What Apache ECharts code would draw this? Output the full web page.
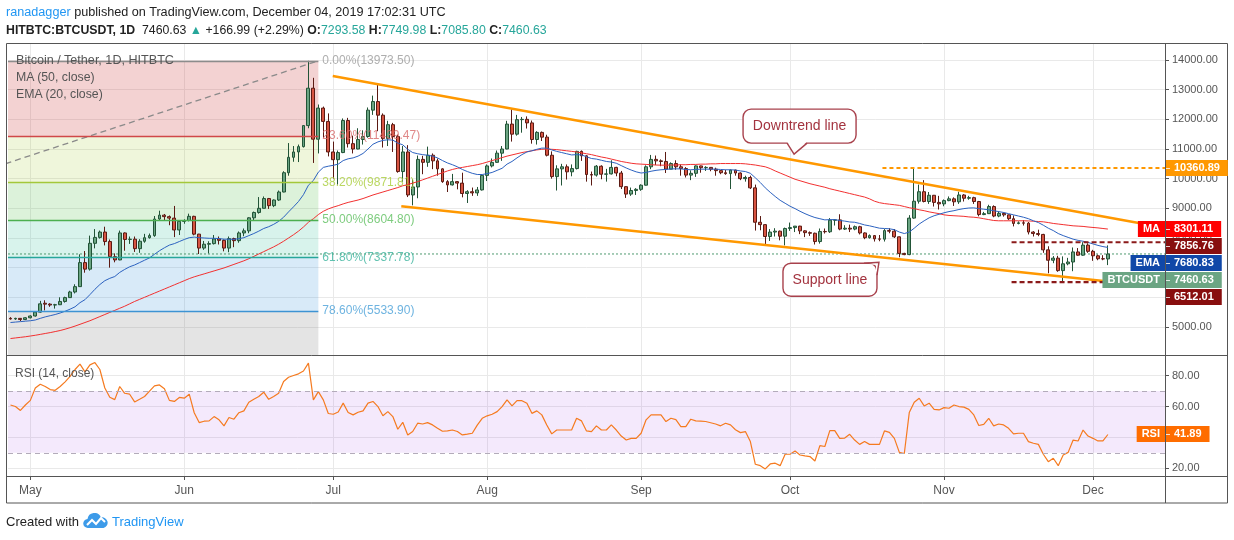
<!DOCTYPE html>
<html><head><meta charset="utf-8">
<script src="https://cdn.jsdelivr.net/npm/echarts@6/dist/echarts.min.js"></script>
<style>
html,body{margin:0;padding:0;background:#fff;}
#wrap{position:relative;width:1234px;height:540px;overflow:hidden;font-family:"Liberation Sans",Arial,sans-serif;}
#chart{position:absolute;left:0;top:0;width:1234px;height:540px;}
.t{position:absolute;white-space:nowrap;}
.g{color:#26a69a;}
</style></head><body>
<div id="wrap">
<div id="chart"></div>
<div class="t" style="left:6px;top:3px;font-size:12.65px;line-height:18px;color:#222"><span style="color:#2196f3">ranadagger</span> published on TradingView.com, December 04, 2019 17:02:31 UTC</div>
<div class="t" style="left:6px;top:21px;font-size:12.3px;line-height:18px;color:#222"><b>HITBTC:BTCUSDT, 1D</b>&nbsp; 7460.63 <span class="g">&#9650;</span> +166.99 (+2.29%) <b>O:</b><span class="g">7293.58</span> <b>H:</b><span class="g">7749.98</span> <b>L:</b><span class="g">7085.80</span> <b>C:</b><span class="g">7460.63</span></div>
<div class="t" style="left:16px;top:52px;font-size:12.6px;line-height:16px;color:#555">Bitcoin / Tether, 1D, HITBTC</div>
<div class="t" style="left:16px;top:69px;font-size:12.3px;line-height:16px;color:#555">MA (50, close)</div>
<div class="t" style="left:16px;top:86px;font-size:12.3px;line-height:16px;color:#555">EMA (20, close)</div>
<div class="t" style="left:15px;top:365px;font-size:12px;line-height:16px;color:#555">RSI (14, close)</div>
<div class="t" style="left:6px;top:513px;font-size:13px;line-height:18px;color:#222">Created with <svg width="26" height="16" viewBox="0 0 26 16" style="vertical-align:-3px"><path d="M5 15a4.5 4.5 0 0 1-.5-9A7 7 0 0 1 18 4.5 5.3 5.3 0 0 1 20.5 15z" fill="#3d9be9"/><polyline points="4,12 9,7 13,11 18,5 22,9" fill="none" stroke="#fff" stroke-width="2"/></svg> <span style="color:#2196f3">TradingView</span></div>
</div>
<script>
// ---------- data ----------
const firstDay = Date.UTC(2019, 3, 27);
const totalDays = 233;
const dates = Array.from({length: totalDays}, (_, i) => new Date(firstDay + i * 86400000).toISOString().slice(0, 10));
const monthNames = ['Jan','Feb','Mar','Apr','May','Jun','Jul','Aug','Sep','Oct','Nov','Dec'];

const openP = [5290,5270,5290,5250,5310,5370,5500,5800,5770,5740,5750,5860,5990,6180,6360,7170,6950,7820,8020,8200,
7880,7370,7260,8170,7950,7960,7640,7890,8010,8080,8640,8770,8720,8670,8270,8560,8590,8730,8130,7660,
7790,7810,7970,7920,7660,7980,7910,8170,8240,8680,8860,9000,9330,9090,9280,9550,10200,10720,10900,11080,
11790,13050,11330,12380,11930,10900,10640,10880,11960,11180,11000,11320,11420,12310,12600,12140,11350,11820,11420,10240,
10900,9450,9720,10650,10550,10790,10600,10330,9900,9790,9900,9850,9500,9560,9520,9620,10110,10430,10550,10860,
11000,11840,11500,11990,12000,11880,11320,11560,11400,10790,10070,10330,10400,10230,10340,10920,10770,10140,10120,10420,
10150,10160,10380,10190,9730,9480,9600,9640,9780,10400,10650,10600,10580,10320,10510,10400,10340,10120,10180,10430,
10370,10380,10320,10270,10200,10170,10290,10190,10000,10040,9690,8530,8450,8050,8200,8230,8060,8320,8350,8400,
8240,8180,8160,7880,8220,8210,8600,8610,8300,8330,8300,8380,8170,8010,8080,7970,7960,8250,8230,8040,
7480,7440,8670,9240,9560,9230,9440,9200,9150,9260,9320,9220,9450,9340,9360,9230,8790,8820,9060,8740,
8830,8780,8650,8490,8510,8500,8200,8150,8120,7600,7250,7320,6900,7130,7190,7530,7420,7760,7550,7400,
7300,7293.58];
const highP = [5330,5310,5300,5330,5390,5520,5880,5900,5800,5780,6000,6020,6220,6440,7450,7560,8080,8300,8250,8380,
7950,7480,8250,8190,8050,8050,7960,8140,8150,8740,8920,8810,8760,9080,8580,8630,8820,8750,8140,7900,
7890,8100,8050,7950,8050,8010,8220,8320,8700,8890,9380,9400,9350,9300,9600,10250,11200,11100,11150,11800,
13973.5,13400,12500,12430,12200,11250,10950,12030,12050,11450,11700,11630,12400,12800,13190,12200,11950,11880,11480,11100,
11130,9980,10780,10770,11080,10850,10680,10350,9950,10160,9920,10200,9610,9700,9720,10130,10480,10680,10950,11100,
11950,12340,12150,12080,12100,11960,11600,11590,11480,10920,10450,10500,10480,10480,10940,10950,10790,10240,10460,10450,
10330,10620,10400,10260,9740,9700,9680,9810,10450,10800,10780,10650,10900,10550,10620,10480,10390,10280,10450,10440,
10420,10390,10370,10280,10300,10310,10300,10210,10100,10100,9800,8740,8470,8300,8330,8250,8350,8520,8400,8410,
8260,8220,8180,8320,8320,8670,8630,8800,8430,8450,8420,8410,8190,8120,8100,8100,8300,8330,8300,8050,
7500,8770,10360.89,9800,9950,9550,9450,9420,9300,9400,9370,9560,9480,9420,9390,9250,8880,9120,9100,8900,
8860,8790,8760,8560,8600,8540,8230,8280,8140,7720,7390,7400,7380,7330,7680,7660,7856.76,7820,7600,7440,
7420,7749.98];
const lowP = [5250,5240,5200,5230,5290,5350,5480,5560,5680,5620,5740,5820,5980,6130,6350,6830,6900,7650,7980,7750,
7000,7180,7250,7570,7800,7530,7500,7840,7980,8040,8600,8580,8430,8030,8100,8480,8560,8090,7460,7600,
7480,7780,7780,7550,7520,7690,7840,8060,8160,8600,8820,9000,8980,9040,9250,9540,10100,10570,10560,11050,
11700,10530,10850,11380,10750,10000,9800,10860,11050,10850,10990,11150,11380,12150,11600,11050,11100,10900,10200,9900,
9380,9100,9340,10150,10400,10320,10100,9860,9550,9770,9640,9370,9180,9420,9420,9600,9920,10380,10530,10600,
10990,11250,11450,11550,11690,11180,11150,11270,10750,10000,9600,9770,9970,10080,10310,10600,9900,9770,10070,9980,
9900,10140,10080,9650,9350,9420,9450,9590,9770,10320,10460,10420,10190,10320,10300,10100,10040,9950,10060,10200,
10260,10250,10100,10150,10130,9650,10100,9950,9900,9650,8250,8260,7730,7900,8050,7920,7750,8240,8200,8130,
8030,8070,7780,7810,8150,8170,8420,8260,8270,8200,8260,8120,7960,7980,7880,7890,7880,8160,8000,7350,
7420,7420,8650,9160,9200,9150,9060,8960,9070,9240,9080,9150,9230,9290,9150,8730,8770,8810,8700,8700,
8720,8600,8390,8460,8420,8120,8050,8060,7500,6810,7150,6860,6512.01,7080,6880,7400,7400,7500,7230,7250,
7250,7085.80];
const closeP = [5270,5290,5250,5310,5370,5500,5780,5770,5740,5750,5860,5990,6180,6360,7170,6950,7820,8020,8200,7880,
7370,7260,8170,7950,7960,7640,7890,8010,8080,8640,8770,8720,8670,8270,8560,8590,8730,8130,7660,7790,
7810,7970,7920,7660,7980,7910,8170,8240,8680,8860,9000,9330,9090,9280,9550,10200,10720,10900,11080,11790,
13050,11330,12380,11930,10900,10640,10880,11960,11180,11000,11320,11420,12310,12600,12140,11350,11820,11420,10240,10900,
9450,9720,10650,10550,10790,10600,10330,9900,9790,9900,9850,9500,9560,9520,9620,10110,10430,10550,10860,11000,
11840,11500,11990,12000,11880,11320,11560,11400,10790,10070,10330,10400,10230,10340,10920,10770,10140,10120,10420,10150,
10160,10380,10190,9730,9480,9600,9640,9780,10400,10650,10600,10580,10320,10510,10400,10340,10120,10180,10430,10370,
10380,10320,10270,10200,10170,10290,10190,10000,10040,9690,8530,8450,8050,8200,8230,8060,8320,8350,8400,8240,
8180,8160,7880,8220,8210,8600,8610,8300,8330,8300,8380,8170,8010,8080,7970,7960,8250,8230,8040,7480,
7440,8670,9240,9560,9230,9440,9200,9150,9260,9320,9220,9450,9340,9360,9230,8790,8820,9060,8740,8830,
8780,8650,8490,8510,8500,8200,8150,8120,7600,7250,7320,6900,7130,7190,7530,7420,7760,7550,7400,7300,
7293.58,7460.63];
const ma50 = [4610,4630,4650,4670,4695,4720,4750,4780,4810,4845,4880,4925,4975,5030,5090,5150,5210,5280,5350,5420,
5490,5560,5630,5700,5780,5860,5930,6000,6070,6140,6210,6280,6350,6420,6490,6560,6630,6690,6740,6790,
6840,6890,6940,6990,7050,7110,7170,7230,7300,7380,7460,7540,7620,7700,7790,7890,8000,8110,8230,8370,
8530,8650,8790,8900,8980,9040,9090,9150,9200,9240,9280,9330,9390,9450,9500,9550,9600,9650,9700,9760,
9800,9850,9900,9960,10020,10080,10140,10200,10260,10310,10350,10380,10410,10440,10470,10510,10560,10610,10660,10710,
10760,10800,10840,10880,10910,10940,10970,10990,11000,10990,10980,10960,10940,10920,10900,10870,10840,10810,10770,10730,
10700,10660,10620,10580,10550,10520,10500,10490,10480,10470,10460,10455,10455,10460,10460,10470,10470,10480,10480,10490,
10490,10500,10500,10510,10510,10510,10510,10510,10500,10480,10460,10430,10400,10340,10260,10190,10120,10050,9980,9930,
9880,9830,9790,9750,9710,9660,9620,9580,9540,9500,9460,9420,9380,9320,9240,9190,9160,9140,9120,9100,
9060,9020,8990,8950,8920,8880,8850,8820,8780,8760,8750,8740,8730,8710,8700,8680,8650,8620,8590,8580,
8580,8580,8580,8580,8580,8575,8565,8555,8545,8520,8490,8470,8450,8430,8410,8400,8390,8370,8355,8340,
8320,8301.11];
const ema20 = [5150,5165,5180,5195,5210,5235,5290,5340,5380,5420,5470,5530,5600,5680,5820,5920,6090,6270,6430,6560,
6640,6700,6840,6940,7030,7090,7170,7250,7330,7450,7570,7670,7760,7810,7880,7950,8010,8030,8010,8000,
7990,7990,7980,7960,7960,7955,7975,8010,8080,8150,8230,8320,8380,8460,8560,8700,8880,9050,9230,9460,
9780,9940,10220,10380,10420,10450,10490,10610,10670,10700,10760,10850,11000,11160,11240,11290,11310,11300,11200,11140,
10990,10880,10840,10810,10790,10760,10700,10610,10530,10470,10400,10310,10240,10180,10140,10140,10170,10210,10280,10350,
10490,10580,10700,10810,10900,10940,10990,11030,11030,10970,10920,10880,10840,10800,10810,10800,10740,10680,10660,10620,
10580,10560,10520,10440,10360,10290,10230,10190,10210,10250,10280,10300,10310,10330,10330,10330,10310,10300,10310,10320,
10320,10320,10320,10310,10300,10300,10290,10260,10240,10180,10030,9870,9690,9540,9400,9270,9170,9070,8990,8900,
8820,8750,8690,8650,8610,8620,8620,8590,8570,8540,8530,8490,8440,8410,8370,8330,8320,8310,8280,8200,
8150,8200,8330,8470,8580,8680,8750,8800,8850,8890,8920,8960,8990,9010,9015,8990,8970,8950,8920,8890,
8860,8820,8780,8740,8700,8650,8580,8520,8430,8330,8250,8150,8080,8020,7960,7920,7890,7850,7800,7750,
7710,7680.83];
const rsi14 = [61,60,57.5,61,64,72,74.5,73,71,70.5,73,76,79.5,84,87.5,82.5,87,88.5,84,72,
66,64.5,73,68.6,68,63,64.7,66.5,70,73.4,74,71.5,64,63.3,65.9,65.4,68,56,49.6,50.5,
50.7,53.5,51.4,47.5,52.9,51.8,56,57.2,62.8,64.7,66.5,69.3,64.7,66.5,68.6,76.2,79,80.1,81.2,83,
88.1,64.3,69.7,64.3,55.5,55,56.5,62.2,56.1,54.6,56.3,57.2,62.2,63.3,60,54,56.7,53.5,45.3,49.8,
41.6,43.8,49.2,48.7,49.6,48.1,46,44,44.2,44.8,43.8,41.6,42.1,42.7,48,52.4,54,55,56.7,60,
64.3,60.4,63.8,63.8,62.1,55.6,57.2,54.6,48,42.3,44.8,44.8,44.8,44.8,52.4,50.7,44.2,43.8,47.5,44.8,
44.8,48.1,44.8,40.9,38.3,39.4,39.4,42.7,51.4,54.6,54.6,54.6,50.3,52.4,51.5,47,47,51.8,50.7,50.5,
50.3,49.5,48.7,47.5,49.2,48.1,45,43.1,43.8,37.3,22.6,21.7,19.6,22.8,23.3,21.7,29.1,29.1,31.2,28.6,
28,27.6,24.7,34.7,34.1,44.4,44.4,39.4,39.6,42,38.3,35.5,37.3,35.5,35.5,35.5,44.2,43.3,39.4,30.3,
29.6,56.1,62.8,65.4,60.4,62.2,58.2,57.8,59.3,58.9,61,60,59.6,58.2,54.6,47.7,48.5,52.4,47.5,48.7,
48.1,45.9,42.3,42.7,42.7,37.3,36.2,35.5,29.1,24.3,26.5,21.7,28.6,30.3,38.3,37.7,44.8,40.9,39.4,37.7,
37.7,41.89];

// Fibonacci retracement drawing (anchors: low Dec 15 2018, high Jun 26 2019)
const fibRatios = ['0.00%','23.60%','38.20%','50.00%','61.80%','78.60%','100.00%'];
const fibPrices = [13973.50, 11439.47, 9871.81, 8604.80, 7337.78, 5533.90, 3236.10];
const fibAnchorX = [-133, 62];
// drawn trend lines [barIndex, price]
const downtrendLine = [[64.9, 13460], [229.7, 8431]];
const supportLine = [[78.7, 9073], [220.6, 6541]];
const resistanceLevel = {from: 175.6, value: 10360.89};
const rangeLevels = {from: 201.6, values: [7856.76, 6512.01]};
// callout anchors [barIndex, price]
const calloutDowntrend = {text: 'Downtrend line', at: [157.8, 10828]};
const calloutSupport = {text: 'Support line', at: [174.9, 7183]};
// axis ticks
const priceTicks = [5000,6000,7000,8000,9000,10000,11000,12000,13000,14000];
const rsiTicks = [20,40,60,80];

// ---------- styles ----------
const FONT = '"Liberation Sans", Arial, sans-serif';
const GRID_C = '#e9e9e9';
const AX_C = '#555';
const xMin = -0.5, xMax = totalDays - 0.5;
const priceMin = 4055, priceMax = 14540;
const monthStarts = dates.map((d, i) => d.slice(8) === '01' ? i : -1).filter(i => i >= 0);
const last = closeP.length - 1;

const fibLineColors = ['#8c8c8c','#d04848','#a3c83a','#4caf50','#26a69a','#3d93d3','#8c8c8c'];
const fibLabelColors = ['#9a9a9a','#d86a6a','#a9cd3a','#5cbf5e','#3ab39c','#4aa0d8','#9a9a9a'];
const fibFill = ['rgba(200,50,50,0.22)','rgba(160,200,40,0.17)','rgba(80,190,70,0.2)','rgba(40,190,150,0.18)','rgba(60,150,220,0.2)','rgba(120,120,120,0.2)'];

const candleData = openP.map((o, i) => [o, closeP[i], lowP[i], highP[i]]);
const fibAreas = [];
for (let i = 0; i < fibPrices.length - 1; i++) {
  fibAreas.push([
    {coord: [xMin, fibPrices[i]], itemStyle: {color: fibFill[i]}},
    {coord: [fibAnchorX[1], Math.max(fibPrices[i + 1], priceMin)]}
  ]);
}
const fibLines = [];
const fibLabelPts = [];
for (let i = 0; i < fibPrices.length; i++) {
  if (fibPrices[i] < priceMin) continue;
  fibLines.push([{coord: [xMin, fibPrices[i]], lineStyle: {color: fibLineColors[i]}}, {coord: [fibAnchorX[1], fibPrices[i]]}]);
  fibLabelPts.push({value: [fibAnchorX[1], fibPrices[i]], label: {color: fibLabelColors[i], formatter: fibRatios[i] + '(' + fibPrices[i].toFixed(2) + ')'}});
}

const hline = (x0, v, color, type, width, z) => ({
  type: 'line', xAxisIndex: 1, yAxisIndex: 0, data: [[x0, v], [xMax, v]], symbol: 'none', silent: true,
  lineStyle: {color, type, width}, z: z || 4, animation: false
});

const option = {
  animation: false,
  backgroundColor: '#fff',
  textStyle: {fontFamily: FONT},
  grid: [
    {left: 8, right: 69, top: 44, height: 311},
    {left: 8, right: 69, top: 355, height: 121}
  ],
  xAxis: [
    {type: 'category', gridIndex: 0, data: dates, boundaryGap: true, show: false},
    {type: 'value', gridIndex: 0, min: xMin, max: xMax, axisLine: {show: false, onZero: false},
      axisTick: {show: false, customValues: monthStarts}, axisLabel: {show: false, customValues: monthStarts},
      splitLine: {show: true, lineStyle: {color: GRID_C}}},
    {type: 'value', gridIndex: 1, min: xMin, max: xMax,
      axisLine: {show: true, onZero: false, lineStyle: {color: AX_C}},
      axisTick: {show: true, length: 4, customValues: monthStarts, lineStyle: {color: AX_C}},
      axisLabel: {customValues: monthStarts, color: '#555', fontSize: 12, margin: 9, fontFamily: FONT,
        formatter: v => monthNames[parseInt(dates[Math.round(v)].slice(5, 7), 10) - 1]},
      splitLine: {show: true, lineStyle: {color: GRID_C}}}
  ],
  yAxis: [
    {type: 'value', gridIndex: 0, position: 'right', min: priceMin, max: priceMax, scale: true,
      axisLine: {show: false, onZero: false},
      axisTick: {show: true, length: 4, customValues: priceTicks, lineStyle: {color: AX_C}},
      axisLabel: {customValues: priceTicks, color: '#555', fontSize: 11, margin: 7, fontFamily: FONT, formatter: v => v.toFixed(2)},
      splitLine: {show: true, lineStyle: {color: GRID_C}}},
    {type: 'value', gridIndex: 1, position: 'right', min: 15, max: 93.4, scale: true,
      axisLine: {show: false, onZero: false},
      axisTick: {show: true, length: 4, customValues: rsiTicks, lineStyle: {color: AX_C}},
      axisLabel: {customValues: rsiTicks, color: '#555', fontSize: 11, margin: 7, fontFamily: FONT, formatter: v => v.toFixed(2)},
      splitLine: {show: true, lineStyle: {color: GRID_C}}}
  ],
  series: [
    {type: 'line', xAxisIndex: 1, yAxisIndex: 0, symbol: 'none', silent: true, z: 1,
      data: [[fibAnchorX[0], fibPrices[6]], [fibAnchorX[1], fibPrices[0]]],
      lineStyle: {color: '#8a8a8a', type: [6, 4], width: 1.3},
      markArea: {silent: true, data: fibAreas},
      markLine: {silent: true, symbol: 'none', label: {show: false}, lineStyle: {type: 'solid', width: 1.3}, data: fibLines}
    },
    {type: 'scatter', xAxisIndex: 1, yAxisIndex: 0, symbolSize: 0, silent: true, z: 3,
      data: fibLabelPts,
      label: {show: true, position: 'right', distance: 4, fontSize: 12, fontFamily: FONT}},
    hline(xMin, closeP[last], '#4f9a70', [2, 2], 1, 2),
    {type: 'candlestick', xAxisIndex: 0, yAxisIndex: 0, data: candleData, barWidth: '68%', z: 3,
      itemStyle: {color: '#6ba583', color0: '#d75442', borderColor: '#225437', borderColor0: '#5b1a13', borderWidth: 1}},
    {type: 'line', name: 'MA', xAxisIndex: 0, yAxisIndex: 0, data: ma50, symbol: 'none', z: 4,
      lineStyle: {color: '#f23030', width: 1}},
    {type: 'line', name: 'EMA', xAxisIndex: 0, yAxisIndex: 0, data: ema20, symbol: 'none', z: 4,
      lineStyle: {color: '#2c62c0', width: 1}},
    {type: 'line', xAxisIndex: 1, yAxisIndex: 0, data: downtrendLine, symbol: 'none', silent: true, z: 5,
      lineStyle: {color: '#ff9800', width: 2.5}},
    {type: 'line', xAxisIndex: 1, yAxisIndex: 0, data: supportLine, symbol: 'none', silent: true, z: 5,
      lineStyle: {color: '#ff9800', width: 2.5}},
    hline(resistanceLevel.from, resistanceLevel.value, '#ff9800', [4, 3], 2, 5),
    hline(rangeLevels.from, rangeLevels.values[0], '#8b1a1a', [5, 3], 2.2, 5),
    hline(rangeLevels.from, rangeLevels.values[1], '#8b1a1a', [5, 3], 2.2, 5),
    {type: 'line', xAxisIndex: 2, yAxisIndex: 1, data: rsi14.map((v, i) => [i, v]), symbol: 'none', z: 4,
      lineStyle: {color: '#f57a1f', width: 1.2},
      markArea: {silent: true, itemStyle: {color: 'rgba(153,51,230,0.11)'}, data: [[{yAxis: 30}, {yAxis: 70}]]},
      markLine: {silent: true, symbol: 'none', label: {show: false}, lineStyle: {color: '#b3abba', type: [5, 4], width: 1},
        data: [{yAxis: 70}, {yAxis: 30}]}
    }
  ]
};

const chart = echarts.init(document.getElementById('chart'), null, {renderer: 'canvas'});
chart.setOption(option);

// ---------- overlays: frame, axis tags, callouts ----------
const toPx = (xi, p) => chart.convertToPixel({xAxisIndex: 1, yAxisIndex: 0}, [xi, p]);
const yMain = p => chart.convertToPixel({yAxisIndex: 0}, p);
const yRsi = v => chart.convertToPixel({yAxisIndex: 1}, v);
const axisX = Math.round(toPx(xMax, priceMin)[0]);
const g = [];

const frameC = '#555';
const L = (x1, y1, x2, y2) => g.push({type: 'line', z: 50, silent: true, shape: {x1, y1, x2, y2}, style: {stroke: frameC, lineWidth: 1}});
g.push({type: 'rect', z: 50, silent: true, shape: {x: 6.5, y: 43.5, width: 1221, height: 459.5}, style: {fill: null, stroke: frameC, lineWidth: 1}});
L(6.5, 355.5, 1227.5, 355.5);
L(6.5, 476.5, 1227.5, 476.5);
L(axisX + 0.5, 43.5, axisX + 0.5, 503);

const tagFont = 'bold 11px ' + FONT;
const mainTags = [
  {name: 'MA', value: ma50[last], color: '#ff0000'},
  {name: '', value: rangeLevels.values[0], color: '#880e0e'},
  {name: 'EMA', value: ema20[last], color: '#1048a8'},
  {name: 'BTCUSDT', value: closeP[last], color: '#6ba583'},
  {name: '', value: rangeLevels.values[1], color: '#880e0e'},
  {name: '', value: resistanceLevel.value, color: '#ff9800'}
];
mainTags.forEach(t => t.y = yMain(t.value));
mainTags.sort((a, b) => a.y - b.y);
for (let i = 1; i < mainTags.length; i++) {
  if (mainTags[i].y < mainTags[i - 1].y + 17) mainTags[i].y = mainTags[i - 1].y + 17;
}
const rsiTag = {name: 'RSI', value: rsi14[last], color: '#ff6d00'};
rsiTag.y = yRsi(rsiTag.value);
[...mainTags, rsiTag].forEach(t => {
  const y = Math.round(t.y);
  g.push({type: 'text', z: 60, silent: true, x: axisX + 1, y,
    style: {text: t.value.toFixed(2), fill: '#fff', font: tagFont, backgroundColor: t.color, padding: [2, 8, 2, 8], lineHeight: 12, align: 'left', verticalAlign: 'middle'}});
  if (t.name) {
    g.push({type: 'text', z: 60, silent: true, x: axisX, y,
      style: {text: t.name, fill: '#fff', font: tagFont, backgroundColor: t.color, padding: [2, 5, 2, 5], lineHeight: 12, align: 'right', verticalAlign: 'middle'}});
  }
  g.push({type: 'line', z: 61, silent: true, shape: {x1: axisX + 1, y1: y + 0.5, x2: axisX + 5, y2: y + 0.5}, style: {stroke: 'rgba(255,255,255,0.8)', lineWidth: 1}});
});

const CB = '#a8414c', CT = '#a3333f';
function callout(c, rectOff, tailFill, tailEdge) {
  const [tx, ty] = toPx(c.at[0], c.at[1]);
  const r = {x: tx + rectOff[0], y: ty + rectOff[1], width: rectOff[2], height: rectOff[3], r: 8};
  g.push({type: 'rect', z: 70, silent: true, shape: r, style: {fill: '#fff', stroke: CB, lineWidth: 1.4}});
  g.push({type: 'polygon', z: 71, silent: true, shape: {points: tailFill.map(p => [tx + p[0], ty + p[1]])}, style: {fill: '#fff'}});
  g.push({type: 'polyline', z: 72, silent: true, shape: {points: tailEdge.map(p => [tx + p[0], ty + p[1]])}, style: {fill: null, stroke: CB, lineWidth: 1.4}});
  g.push({type: 'text', z: 73, silent: true, x: r.x + r.width / 2, y: r.y + r.height / 2,
    style: {text: c.text, fill: CT, font: '14px ' + FONT, align: 'center', verticalAlign: 'middle'}});
}
callout(calloutDowntrend, [-51, -45, 113, 34], [[-7, -12.5], [13, -12.5], [0, 0]], [[-7, -11], [0, 0], [13, -11]]);
callout(calloutSupport, [-96, 1, 94, 33], [[-15, 2.5], [-3, 2.5], [-3, 13], [0, 0]], [[-15, 1], [0, 0], [-2, 13]]);

chart.setOption({graphic: {elements: g}});
</script>
</body></html>
